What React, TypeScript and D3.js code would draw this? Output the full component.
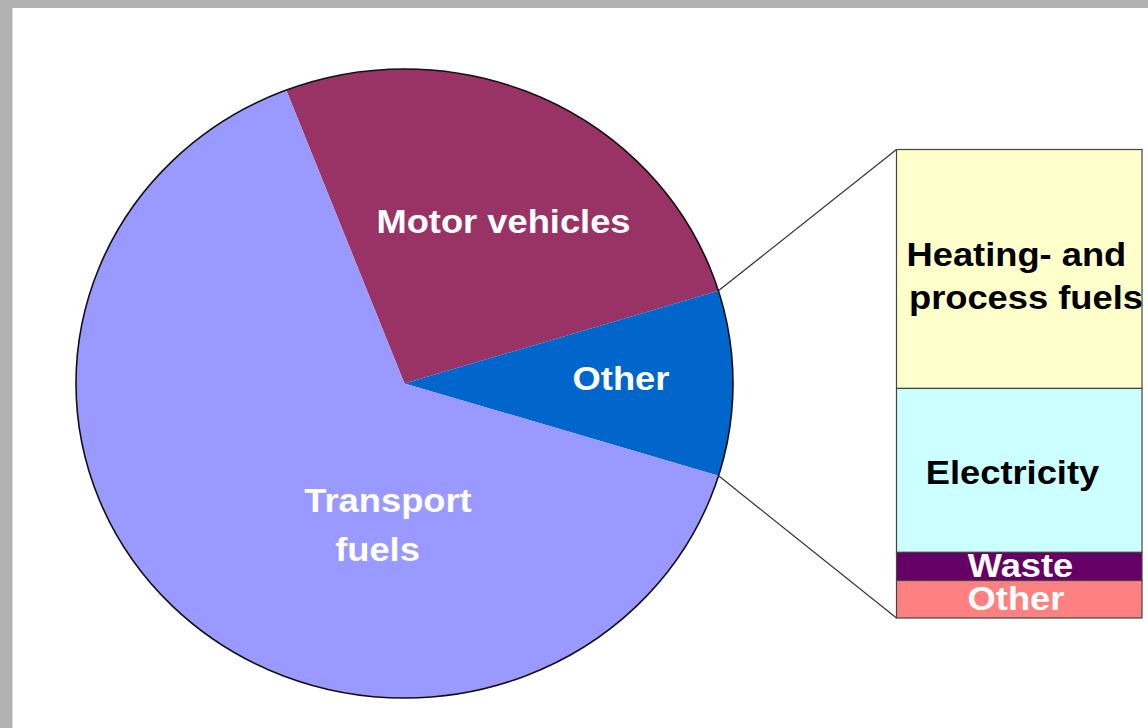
import { useEffect, useRef } from "react";
import * as d3 from "d3";

// pie: share of total (%)
const pieLabels = ["Motor vehicles", "Other", "Transport fuels"];
const pieValues = [26.1, 9.5, 64.4];
const pieColors = ["#993366", "#0066CC", "#9999FF"];

// breakdown of "Other" (%), top to bottom
const barLabels = ["Heating- and process fuels", "Electricity", "Waste", "Other"];
const barValues = [51, 35, 6, 8];
const barColors = ["#FFFFCC", "#CCFFFF", "#660066", "#FF8080"];
const barTextColors = ["#000", "#000", "#fff", "#fff"];

const W = 1148;
const H = 728;

const App = () => {
  const ref = useRef<SVGSVGElement>(null);

  useEffect(() => {
    if (!ref.current) return;
    const svg = d3.select(ref.current);
    svg.selectAll("*").remove();

    // frame
    svg.append("rect").attr("width", W).attr("height", H).attr("fill", "#B2B2B2");
    svg.append("rect").attr("x", 12.5).attr("y", 8).attr("width", W).attr("height", H).attr("fill", "#fff");

    const cx = 404.5;
    const cy = 383.5;
    const rx = 328.5;
    const ry = 314.5;
    const start = (-21.1 * Math.PI) / 180;

    const pie = d3
      .pie<number>()
      .sort(null)
      .startAngle(start)
      .endAngle(start + 2 * Math.PI);
    const arcs = pie(pieValues);
    const arc = d3.arc<d3.PieArcDatum<number>>().innerRadius(0).outerRadius(1);

    const gPie = svg
      .append("g")
      .attr("transform", `translate(${cx},${cy}) scale(${rx},${ry})`);

    gPie
      .selectAll("path")
      .data(arcs)
      .join("path")
      .attr("d", arc)
      .attr("fill", (_d, i) => pieColors[i]);

    gPie
      .append("ellipse")
      .attr("rx", 1)
      .attr("ry", 1)
      .attr("fill", "none")
      .attr("stroke", "#111")
      .attr("stroke-width", 1.6)
      .attr("vector-effect", "non-scaling-stroke");

    const font = "'Liberation Sans', Arial, sans-serif";
    const sx = 1.1;
    const addText = (
      x: number,
      y: number,
      t: string,
      fill: string,
      anchor: string,
    ) =>
      svg
        .append("text")
        .attr("transform", `translate(${x},${y}) scale(${sx},1)`)
        .attr("text-anchor", anchor)
        .attr("font-family", font)
        .attr("font-weight", "bold")
        .attr("font-size", 33)
        .attr("fill", fill)
        .text(t);

    // pie labels
    addText(503.5, 233, pieLabels[0], "#fff", "middle");
    addText(621, 390, pieLabels[1], "#fff", "middle");
    const [tr1, tr2] = ["Transport", "fuels"];
    addText(388, 512, tr1, "#fff", "middle");
    addText(377.5, 561, tr2, "#fff", "middle");

    // stacked bar
    const bx = 896.5;
    const bw = 245.5;
    const y = d3
      .scaleLinear()
      .domain([0, d3.sum(barValues)])
      .range([149.5, 618]);
    const cum = d3.cumsum(barValues);
    const segs = barValues.map((v, i) => ({ y0: cum[i] - v, y1: cum[i], i }));

    // connector lines from the "Other" slice edges
    const other = arcs[1];
    const edge = (a: number) => [cx + rx * Math.sin(a), cy - ry * Math.cos(a)];
    const [ax, ay] = edge(other.startAngle);
    const [bx2, by2] = edge(other.endAngle);
    svg
      .append("line")
      .attr("x1", ax)
      .attr("y1", ay)
      .attr("x2", bx)
      .attr("y2", y(0))
      .attr("stroke", "#333")
      .attr("stroke-width", 1.2);
    svg
      .append("line")
      .attr("x1", bx2)
      .attr("y1", by2)
      .attr("x2", bx)
      .attr("y2", y(d3.sum(barValues)))
      .attr("stroke", "#333")
      .attr("stroke-width", 1.2);

    svg
      .append("g")
      .selectAll("rect")
      .data(segs)
      .join("rect")
      .attr("x", bx)
      .attr("y", (d) => y(d.y0))
      .attr("width", bw)
      .attr("height", (d) => y(d.y1) - y(d.y0))
      .attr("fill", (d) => barColors[d.i])
      .attr("stroke", "#444")
      .attr("stroke-width", 1.2);

    // bar labels
    addText(906.5, 266, "Heating- and", barTextColors[0], "start");
    addText(909, 309, "process fuels", barTextColors[0], "start");
    addText(1012.5, 484, barLabels[1], barTextColors[1], "middle");
    addText(1020.5, 577, barLabels[2], barTextColors[2], "middle");
    addText(1016, 610, barLabels[3], barTextColors[3], "middle");
  }, []);

  return (
    <svg
      ref={ref}
      width={W}
      height={H}
      style={{ position: "absolute", left: 0, top: 0, display: "block" }}
    />
  );
};

export default App;
